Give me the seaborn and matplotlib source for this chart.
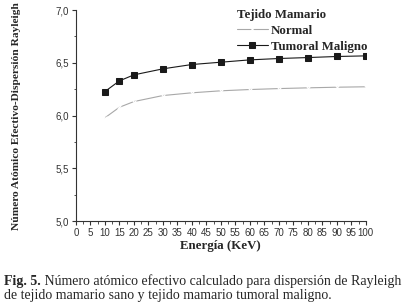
import matplotlib
matplotlib.use("Agg")
import matplotlib.pyplot as plt
import seaborn as sns
from matplotlib.ticker import MultipleLocator, FuncFormatter

energia = [10, 15, 20, 30, 40, 50, 60, 70, 80, 90, 100]
normal = [5.979, 6.079, 6.133, 6.190, 6.216, 6.235, 6.247, 6.256, 6.263, 6.269, 6.273]
tumoral = [6.228, 6.329, 6.386, 6.443, 6.484, 6.506, 6.528, 6.541, 6.550, 6.560, 6.566]
series = ["Normal", "Tumoral Maligno"]

sns.set_style("ticks")
fig = plt.figure(figsize=(4.06, 3.05), dpi=100)
ax = fig.add_axes([0.187, 0.275, 0.714, 0.692])

sns.lineplot(x=energia, y=normal, color="#a8a8a8", marker="x", markersize=3,
             markeredgewidth=0.8, linewidth=0.8, label=series[0], ax=ax)
sns.lineplot(x=energia, y=tumoral, color="#1a1a1a", marker="s", markersize=3.8,
             markeredgecolor="#1a1a1a", linewidth=0.8, label=series[1], ax=ax)

ax.set_xlim(0, 100)
ax.set_ylim(5.0, 7.0)
ax.xaxis.set_major_locator(MultipleLocator(5))
ax.xaxis.set_minor_locator(MultipleLocator(2.5))
ax.yaxis.set_major_locator(MultipleLocator(0.5))
ax.yaxis.set_minor_locator(MultipleLocator(0.25))
ax.yaxis.set_major_formatter(FuncFormatter(lambda v, p: f"{v:.1f}".replace(".", ",")))
ax.tick_params(axis="both", which="major", labelsize=7, length=3, width=0.8,
               colors="#333333", pad=2)
ax.tick_params(axis="both", which="minor", length=1.8, width=0.6, colors="#333333")
for lab in ax.get_xticklabels() + ax.get_yticklabels():
    lab.set_fontfamily("Liberation Sans")
sns.despine(ax=ax)
ax.spines["left"].set_color("#333333")
ax.spines["bottom"].set_color("#333333")

ax.set_xlabel("Energía (KeV)", fontfamily="Liberation Serif", fontweight="bold",
              fontsize=9.3, labelpad=1.5)
ax.set_ylabel("Número Atómico Efectivo-Dispersión Rayleigh", fontfamily="Liberation Serif",
              fontweight="bold", fontsize=8.2)
ax.yaxis.set_label_coords(-0.19, 0.497)

leg = ax.legend(title="Tejido Mamario", loc="upper left",
                bbox_to_anchor=(237 / 406, 1 - 9 / 305), bbox_transform=fig.transFigure,
                frameon=False, prop={"family": "Liberation Serif", "weight": "bold", "size": 9.3},
                handlelength=2.4, handletextpad=0.2, labelspacing=0.3,
                borderpad=0, borderaxespad=0)
leg.get_title().set_fontfamily("Liberation Serif")
leg.get_title().set_fontweight("bold")
leg.get_title().set_fontsize(9.3)
leg._legend_box.align = "left"

t1 = fig.text(0.01, 1 - 285 / 305, "Fig. 5.", fontsize=10, fontfamily="Liberation Serif",
              fontweight="bold", va="baseline")
fig.canvas.draw()
x1 = t1.get_window_extent().x1 / fig.bbox.width
fig.text(x1, 1 - 285 / 305, " Número atómico efectivo calculado para dispersión de Rayleigh",
         fontsize=10, fontfamily="Liberation Serif", va="baseline")
fig.text(0.01, 1 - 299 / 305, "de tejido mamario sano y tejido mamario tumoral maligno.",
         fontsize=10, fontfamily="Liberation Serif", va="baseline")

fig.savefig("out.png", dpi=100)
